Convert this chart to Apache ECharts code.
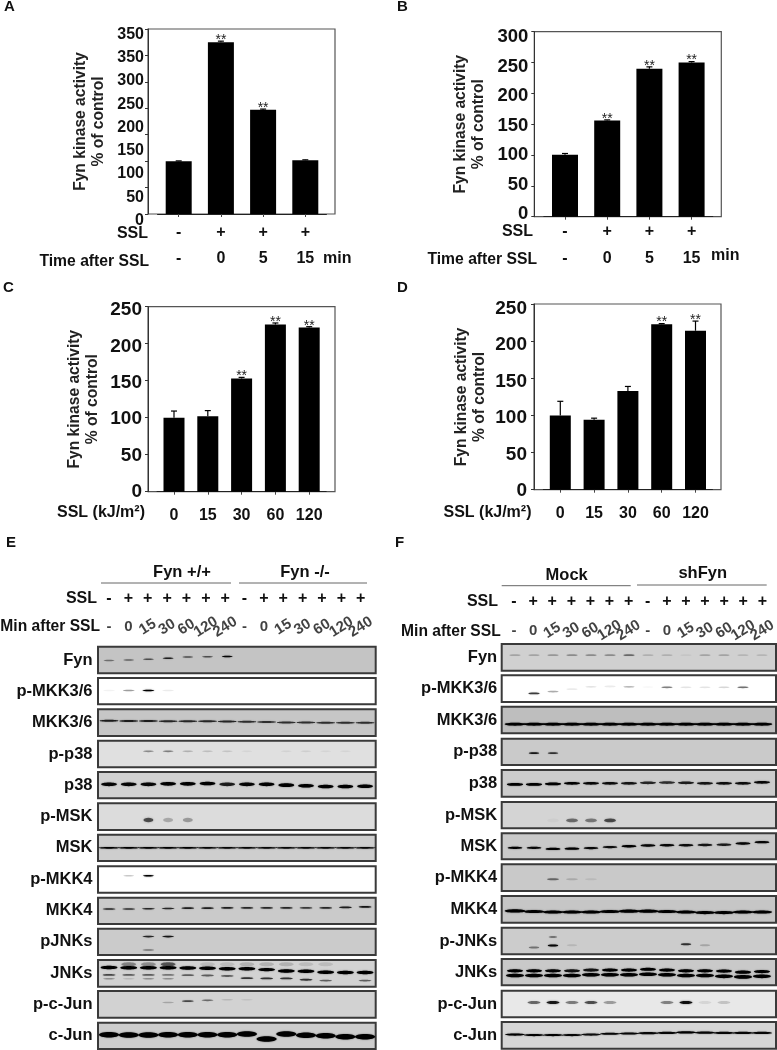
<!DOCTYPE html>
<html><head><meta charset="utf-8">
<script src="https://cdn.jsdelivr.net/npm/echarts@6/dist/echarts.min.js"></script>
<style>html,body{margin:0;padding:0;background:#fff}#c{width:777px;height:1050px}</style>
</head><body><div id="c"></div>
<script>
// ---------- bar chart data ----------
const A_categories = ['-\n-', '+\n0', '+\n5', '+\n15'];
const A_values = [100, 325, 197, 101.5];
const A_errors = [0.5, 2, 1.5, 1];
const A_stars = [0, 1, 1, 0];
const A_tickLabels = ['0', '50', '100', '150', '200', '250', '300', '350', '350'];

const B_categories = ['-\n-', '+\n0', '+\n5', '+\n15'];
const B_values = [100.5, 156, 240, 250];
const B_errors = [2, 1, 3, 1.5];
const B_stars = [0, 1, 1, 1];
const B_tickLabels = ['0', '50', '100', '150', '200', '250', '300'];

const C_categories = ['0', '15', '30', '60', '120'];
const C_values = [100, 102, 153, 226, 222];
const C_errors = [9, 7.6, 1.5, 2, 1];
const C_stars = [0, 0, 1, 1, 1];
const C_tickLabels = ['0', '50', '100', '150', '200', '250'];

const D_categories = ['0', '15', '30', '60', '120'];
const D_values = [100, 94.3, 133, 222.6, 214];
const D_errors = [19, 2, 6, 1, 13];
const D_stars = [0, 0, 0, 1, 1];
const D_tickLabels = ['0', '50', '100', '150', '200', '250'];

// ---------- blot data: band darkness per lane (0-1) and band position in the panel (0 top, 1 bottom) ----------
const sslMarks = ['-', '+', '+', '+', '+', '+', '+', '-', '+', '+', '+', '+', '+', '+'];
const minMarks = ['-', '0', '15', '30', '60', '120', '240', '-', '0', '15', '30', '60', '120', '240'];

const E_Fyn = [.4, .45, .55, .8, .55, .55, .95, 0, 0, 0, 0, 0, 0, 0];
const E_Fyn_y = [.52, .5, .47, .43, .39, .38, .37, 0, 0, 0, 0, 0, 0, 0];
const E_pMKK36 = [.05, .35, 1, .08, 0, 0, 0, 0, 0, 0, 0, 0, 0, 0];
const E_MKK36 = [.8, .8, .8, .75, .75, .75, .75, .7, .7, .7, .7, .7, .7, .7];
const E_MKK36_y = [.43, .44, .44, .45, .45, .45, .46, .47, .48, .49, .49, .5, .5, .5];
const E_pp38 = [0, 0, .35, .4, .2, .15, .12, .05, 0, .06, .08, .05, .05, 0];
const E_p38 = [.95, .95, .95, 1, 1, 1, .8, .95, 1, 1, 1, 1, 1, 1];
const E_p38_y = [.47, .47, .47, .45, .45, .44, .47, .47, .47, .5, .52, .55, .55, .54];
const E_pMSK = [0, 0, .6, .22, .28, 0, 0, 0, 0, 0, 0, 0, 0, 0];
const E_MSK = [1, 1, 1, 1, 1, .95, .95, .95, .95, .95, .95, .95, .95, .95];
const E_pMKK4 = [0, .2, 1, 0, 0, 0, 0, 0, 0, 0, 0, 0, 0, 0];
const E_MKK4 = [.75, .7, .75, .75, .8, .8, .8, .75, .75, .75, .65, .75, .8, .85];
const E_MKK4_y = [.43, .43, .42, .41, .4, .4, .39, .39, .39, .39, .39, .39, .37, .35];
const E_pJNK_upper = [0, 0, .75, .85, 0, 0, 0, 0, 0, 0, 0, 0, 0, 0];
const E_pJNK_lower = [0, 0, .4, 0, 0, 0, 0, 0, 0, 0, 0, 0, 0, 0];
const E_JNK_smear = [0, .35, .3, .55, 0, .1, .1, .15, .15, .15, .1, .1, 0, 0];
const E_JNK_upper = [1, 1, 1, 1, 1, 1, 1, 1, 1, 1, 1, 1, 1, 1];
const E_JNK_upper_y = [.28, .29, .29, .29, .3, .31, .33, .33, .36, .41, .42, .46, .47, .47];
const E_JNK_mid = [.6, .5, .5, .4, .5, .5, .5, .7, .7, .7, .7, .5, 0, .5];
const E_JNK_mid_y = [.56, .56, .56, .56, .57, .58, .6, .68, .69, .69, .74, .77, .77, .77];
const E_JNK_low = [.3, .12, .3, .3, 0, 0, 0, 0, 0, 0, 0, 0, 0, 0];
const E_pcJun = [0, 0, 0, .2, .6, .45, .12, .08, 0, 0, 0, 0, 0, 0];
const E_pcJun_y = [.4, .4, .4, .43, .38, .35, .33, .33, 0, 0, 0, 0, 0, 0];
const E_cJun = [1, 1, 1, 1, 1, 1, 1, 1, 1, 1, 1, 1, 1, 1];
const E_cJun_y = [.46, .47, .47, .46, .46, .46, .46, .43, .62, .43, .48, .5, .53, .53];

const F_Fyn = [.2, .2, .25, .3, .3, .3, .45, .15, .15, .05, .2, .2, .12, .12];
const F_pMKK36 = [0, .7, .3, .08, .1, .08, .25, .03, .45, .1, .1, .15, .5, 0];
const F_pMKK36_y = [.5, .68, .61, .52, .43, .42, .43, .44, .45, .45, .45, .45, .45, .45];
const F_MKK36 = [1, 1, 1, 1, 1, 1, 1, 1, 1, 1, 1, 1, 1, 1];
const F_pp38 = [0, .85, .7, 0, 0, 0, 0, 0, 0, 0, 0, 0, 0, 0];
const F_p38 = [1, 1, 1, 1, .95, .9, .85, .75, .7, .8, .85, .9, .9, .95];
const F_p38_y = [.54, .54, .52, .5, .5, .5, .5, .48, .47, .48, .5, .5, .5, .46];
const F_pMSK = [0, 0, .03, .45, .4, .6, 0, 0, 0, 0, 0, 0, 0, 0];
const F_MSK = [1, .95, 1, 1, .95, .9, 1, .95, .95, .9, .85, .8, .95, .95];
const F_MSK_y = [.56, .56, .6, .59, .57, .53, .5, .47, .46, .46, .45, .44, .39, .34];
const F_pMKK4 = [0, 0, .45, .15, .08, 0, 0, 0, 0, 0, 0, 0, 0, 0];
const F_MKK4 = [1, 1, 1, 1, 1, 1, 1, 1, 1, 1, 1, 1, 1, 1];
const F_MKK4_y = [.56, .58, .6, .6, .6, .58, .57, .57, .58, .6, .62, .62, .6, .6];
const F_pJNK_upper = [0, 0, .5, 0, 0, 0, 0, 0, 0, 0, 0, 0, 0, 0];
const F_pJNK_lower = [0, .4, .95, .1, 0, 0, 0, 0, 0, .7, .18, 0, 0, 0];
const F_pJNK_lower_y = [.7, .74, .67, .66, .6, .6, .6, .6, .6, .62, .66, .6, .6, .6];
const F_JNK_upper = [1, 1, .95, .85, .85, 1, 1, 1, 1, 1, 1, 1, 1, 1];
const F_JNK_upper_y = [.45, .45, .45, .45, .42, .42, .42, .39, .42, .45, .45, .46, .5, .48];
const F_JNK_lower = [1, 1, 1, 1, 1, 1, 1, 1, 1, 1, 1, 1, 1, 1];
const F_JNK_lower_y = [.63, .63, .63, .63, .6, .6, .6, .58, .6, .63, .63, .66, .68, .66];
const F_pcJun = [0, .5, .85, .42, .6, .3, 0, 0, .4, .9, .08, .15, 0, 0];
const F_cJun = [1, 1, 1, .95, .9, .95, .95, .95, .95, 1, .95, .95, .95, .95];
const F_cJun_y = [.47, .49, .49, .49, .47, .44, .43, .42, .41, .39, .4, .41, .41, .41];

// ---------- layout of the charts ----------
const FONT = '"Liberation Sans", Arial, sans-serif';
const TXT = '#111';
const option = { animation: false, backgroundColor: '#fff', grid: [], xAxis: [], yAxis: [], series: [], graphic: [] };

function addGrid(g, x, y) {
  const i = option.grid.length;
  option.grid.push(Object.assign({ containLabel: false }, g));
  option.xAxis.push(Object.assign({ gridIndex: i }, x));
  option.yAxis.push(Object.assign({ gridIndex: i }, y));
  return i;
}
const hidden = { axisLine: { show: false }, axisTick: { show: false }, axisLabel: { show: false }, splitLine: { show: false } };

function barChart(c) {
  const h = c.bottom - c.top;
  addGrid(
    { left: c.left, top: c.top, width: c.width, height: h, show: true, borderColor: '#555', borderWidth: 1.2, backgroundColor: 'transparent' },
    Object.assign({ type: 'value', min: 0, max: 1 }, hidden),
    { type: 'value', min: 0, max: c.max, interval: 50,
      axisLine: { show: true, lineStyle: { color: '#333', width: 1 } },
      axisTick: { show: true, length: 3, lineStyle: { color: '#333' } },
      axisLabel: { show: false }, splitLine: { show: false },
      name: 'Fyn kinase activity\n% of control', nameLocation: 'middle', nameGap: c.nameGap,
      nameTextStyle: { fontFamily: FONT, fontWeight: 'bold', fontSize: 15.6, lineHeight: 17.5, color: '#222' } });
  addGrid(
    { left: c.left, top: c.labelTop, width: c.width, height: c.labelBottom - c.labelTop },
    Object.assign({ type: 'value', min: 0, max: 1 }, hidden),
    { type: 'category', boundaryGap: false, data: c.tickLabels,
      axisLine: { show: false }, axisTick: { show: false }, splitLine: { show: false },
      axisLabel: { margin: c.labelMargin, fontFamily: FONT, fontWeight: 'bold', fontSize: c.labelSize, color: TXT, interval: 0 } });
  const idx = addGrid(
    { left: c.x0 - c.step / 2, top: c.top, width: c.step * c.categories.length, height: h },
    { type: 'category', data: c.categories,
      axisLine: { show: true, lineStyle: { color: '#222', width: 1.2 } },
      axisTick: { show: true, alignWithLabel: true, length: 3, lineStyle: { color: '#444' } },
      axisLabel: { interval: 0, margin: c.catMargin, lineHeight: c.catLine, fontFamily: FONT, fontWeight: 'bold', fontSize: 16, color: TXT } },
    Object.assign({ type: 'value', min: 0, max: c.max }, hidden));
  option.series.push({ type: 'bar', xAxisIndex: idx, yAxisIndex: idx, data: c.values, barWidth: c.barWidth,
    itemStyle: { color: '#000' }, silent: true });
  option.series.push({ type: 'custom', xAxisIndex: idx, yAxisIndex: idx, silent: true,
    data: c.values.map((v, i) => [i, v, c.errors[i], c.stars[i]]),
    renderItem: (p, api) => {
      const x = api.value(0), v = api.value(1), e = api.value(2), s = api.value(3);
      const a = api.coord([x, v]), b = api.coord([x, v + e]);
      const kids = [
        { type: 'line', shape: { x1: a[0], y1: a[1], x2: b[0], y2: b[1] }, style: { stroke: '#000', lineWidth: 1.2 } },
        { type: 'line', shape: { x1: a[0] - 3, y1: b[1], x2: a[0] + 3, y2: b[1] }, style: { stroke: '#000', lineWidth: 1.2 } }
      ];
      if (s) kids.push({ type: 'text', style: { text: '**', x: a[0], y: b[1] - 1, align: 'center', verticalAlign: 'middle', font: '14px ' + FONT, fill: '#222' } });
      return { type: 'group', children: kids };
    } });
}

barChart({ left: 148, width: 187, top: 29, bottom: 214, max: 350, labelTop: 34.5, labelBottom: 220.5, labelMargin: 4, labelSize: 16, tickLabels: A_tickLabels,
  nameGap: 41, x0: 178.7, step: 42.2, barWidth: 26, categories: A_categories, values: A_values, errors: A_errors, stars: A_stars, catMargin: 6, catLine: 26 });
barChart({ left: 534.3, width: 187, top: 31.7, bottom: 216.7, max: 300, labelTop: 37, labelBottom: 214, labelMargin: 6, labelSize: 18.5, tickLabels: B_tickLabels,
  nameGap: 47, x0: 565, step: 42.2, barWidth: 26, categories: B_categories, values: B_values, errors: B_errors, stars: B_stars, catMargin: 1, catLine: 27 });
barChart({ left: 148, width: 187, top: 306.7, bottom: 491.7, max: 250, labelTop: 310, labelBottom: 491.7, labelMargin: 6, labelSize: 19, tickLabels: C_tickLabels,
  nameGap: 47, x0: 174, step: 33.8, barWidth: 21, categories: C_categories, values: C_values, errors: C_errors, stars: C_stars, catMargin: 16, catLine: 16 });
barChart({ left: 534, width: 187, top: 304, bottom: 489.7, max: 250, labelTop: 308.7, labelBottom: 491, labelMargin: 7, labelSize: 19, tickLabels: D_tickLabels,
  nameGap: 46, x0: 560.3, step: 33.8, barWidth: 21, categories: D_categories, values: D_values, errors: D_errors, stars: D_stars, catMargin: 16, catLine: 16 });

function bands(grid, spec) {
  const ys = spec.y;
  const data = [];
  spec.v.forEach((a, i) => { if (a > 0) data.push([i, Array.isArray(ys) ? ys[i] : ys, a]); });
  option.series.push({ type: 'custom', xAxisIndex: grid, yAxisIndex: grid, silent: true, clip: true, data,
    renderItem: (p, api) => {
      const c = api.coord([api.value(0), api.value(1)]);
      const a = api.value(2);
      const rx = api.size([spec.w, 0])[0] / 2;
      return { type: 'ellipse', shape: { cx: c[0], cy: c[1], rx, ry: spec.t / 2 },
        style: { fill: 'rgba(0,0,0,' + a + ')', shadowBlur: spec.blur === undefined ? 1.5 : spec.blur, shadowColor: 'rgba(0,0,0,' + (a * 0.6) + ')' } };
    } });
}

function blot(p, row) {
  const g = addGrid(
    { left: p.left, width: p.width, top: row.top, height: row.bottom - row.top, show: true, borderColor: '#3a3a3a', borderWidth: 2, backgroundColor: row.bg },
    Object.assign({ type: 'value', min: p.min, max: p.max }, hidden),
    Object.assign({ type: 'value', min: 0, max: 1, inverse: true }, hidden, {
      name: row.name, nameLocation: 'middle', nameRotate: 0, nameGap: p.nameGap,
      nameTextStyle: { align: 'right', verticalAlign: 'middle', padding: [0, 0, 3, 0], fontFamily: FONT, fontWeight: 'bold', fontSize: 16.5, color: TXT } }));
  row.bands.forEach(b => bands(g, b));
}

function header(h) {
  const i = addGrid(
    { left: h.x0 - h.step / 2, width: h.step * 14, top: h.sslY, height: h.minY - h.sslY },
    { type: 'category', data: sslMarks, position: 'top', axisLine: { show: false }, axisTick: { show: false }, splitLine: { show: false },
      axisLabel: { interval: 0, margin: -8, fontFamily: FONT, fontWeight: 'bold', fontSize: 16, color: TXT } },
    Object.assign({ type: 'value', min: 0, max: 1 }, hidden));
  option.series.push({ type: 'scatter', xAxisIndex: i, yAxisIndex: i, symbolSize: 0, silent: true,
    data: minMarks.map((m, k) => ({ value: [k, 0], name: m,
      label: { show: true, position: 'inside', formatter: m, rotate: (m === '-' || m === '0') ? 0 : 32,
        fontFamily: FONT, fontWeight: 'bold', fontSize: 15, color: TXT } })) });
}

const E_panel = { left: 98, width: 277.7, min: -0.56, max: 13.54, nameGap: 5.5 };
const F_panel = { left: 501.7, width: 274.3, min: -0.7, max: 13.74, nameGap: 4.5 };

const E_rows = [
  { name: 'Fyn', top: 646.7, bottom: 673.3, bg: '#c4c4c4', bands: [{ v: E_Fyn, y: E_Fyn_y, w: .55, t: 1.5 }] },
  { name: 'p-MKK3/6', top: 678, bottom: 704.3, bg: '#ffffff', bands: [{ v: E_pMKK36, y: .475, w: .6, t: 1.4 }] },
  { name: 'MKK3/6', top: 709.3, bottom: 736, bg: '#c6c6c6', bands: [{ v: E_MKK36, y: E_MKK36_y, w: .95, t: 2 }] },
  { name: 'p-p38', top: 740.7, bottom: 767.3, bg: '#e0e0e0', bands: [{ v: E_pp38, y: .4, w: .55, t: 1.6 }] },
  { name: 'p38', top: 772, bottom: 798.3, bg: '#d2d2d2', bands: [{ v: E_p38, y: E_p38_y, w: .8, t: 3.6 }] },
  { name: 'p-MSK', top: 803.3, bottom: 830, bg: '#dcdcdc', bands: [{ v: E_pMSK, y: .63, w: .5, t: 4.5, blur: 2.5 }] },
  { name: 'MSK', top: 834.7, bottom: 861, bg: '#cecece', bands: [{ v: E_MSK, y: .5, w: 1.08, t: 1.8 }] },
  { name: 'p-MKK4', top: 866.3, bottom: 892.7, bg: '#ffffff', bands: [{ v: E_pMKK4, y: .36, w: .55, t: 1.5 }] },
  { name: 'MKK4', top: 897.7, bottom: 924, bg: '#cacaca', bands: [{ v: E_MKK4, y: E_MKK4_y, w: .65, t: 1.7 }] },
  { name: 'pJNKs', top: 928.7, bottom: 955, bg: '#cbcbcb', bands: [{ v: E_pJNK_upper, y: .3, w: .6, t: 1.6 }, { v: E_pJNK_lower, y: .81, w: .6, t: 1.6 }] },
  { name: 'JNKs', top: 960, bottom: 986.7, bg: '#d2d2d2', bands: [
    { v: E_JNK_smear, y: .16, w: .75, t: 4, blur: 3 },
    { v: E_JNK_upper, y: E_JNK_upper_y, w: .85, t: 3.4 },
    { v: E_JNK_mid, y: E_JNK_mid_y, w: .65, t: 1.8 },
    { v: E_JNK_low, y: .7, w: .6, t: 1.4 }] },
  { name: 'p-c-Jun', top: 991, bottom: 1017.7, bg: '#d2d2d2', bands: [{ v: E_pcJun, y: E_pcJun_y, w: .6, t: 1.6 }] },
  { name: 'c-Jun', top: 1022.7, bottom: 1049, bg: '#cdcdcd', bands: [{ v: E_cJun, y: E_cJun_y, w: 1.02, t: 5.5 }] }
];
const F_rows = [
  { name: 'Fyn', top: 644, bottom: 670.7, bg: '#d0d0d0', bands: [{ v: F_Fyn, y: .42, w: .6, t: 1.8 }] },
  { name: 'p-MKK3/6', top: 675.3, bottom: 702, bg: '#ffffff', bands: [{ v: F_pMKK36, y: F_pMKK36_y, w: .6, t: 1.8 }] },
  { name: 'MKK3/6', top: 706.7, bottom: 733.3, bg: '#bebebe', bands: [{ v: F_MKK36, y: .66, w: 1.08, t: 2.8 }] },
  { name: 'p-p38', top: 738.7, bottom: 765, bg: '#cacaca', bands: [{ v: F_pp38, y: .55, w: .55, t: 1.6 }] },
  { name: 'p38', top: 770, bottom: 796.7, bg: '#cccccc', bands: [{ v: F_p38, y: F_p38_y, w: .85, t: 2.8 }] },
  { name: 'p-MSK', top: 802, bottom: 828.3, bg: '#d4d4d4', bands: [{ v: F_pMSK, y: .7, w: .62, t: 3.8, blur: 2 }] },
  { name: 'MSK', top: 833.3, bottom: 859.3, bg: '#c9c9c9', bands: [{ v: F_MSK, y: F_MSK_y, w: .78, t: 2.4 }] },
  { name: 'p-MKK4', top: 864.3, bottom: 891, bg: '#c9c9c9', bands: [{ v: F_pMKK4, y: .56, w: .62, t: 2 }] },
  { name: 'MKK4', top: 896, bottom: 922.7, bg: '#c6c6c6', bands: [{ v: F_MKK4, y: F_MKK4_y, w: 1.08, t: 3.2 }] },
  { name: 'p-JNKs', top: 927.7, bottom: 954.3, bg: '#cccccc', bands: [{ v: F_pJNK_upper, y: .35, w: .45, t: 1.4 }, { v: F_pJNK_lower, y: F_pJNK_lower_y, w: .55, t: 2 }] },
  { name: 'JNKs', top: 959, bottom: 985.3, bg: '#c9c9c9', bands: [{ v: F_JNK_upper, y: F_JNK_upper_y, w: .85, t: 3.2 }, { v: F_JNK_lower, y: F_JNK_lower_y, w: .95, t: 3.6 }] },
  { name: 'p-c-Jun', top: 990.7, bottom: 1017.3, bg: '#e8e8e8', bands: [{ v: F_pcJun, y: .44, w: .68, t: 3, blur: 2 }] },
  { name: 'c-Jun', top: 1022, bottom: 1048.7, bg: '#d6d6d6', bands: [{ v: F_cJun, y: F_cJun_y, w: 1.05, t: 2.2 }] }
];
E_rows.forEach(r => blot(E_panel, r));
F_rows.forEach(r => blot(F_panel, r));
header({ x0: 109, step: 19.36, sslY: 599, minY: 627 });
header({ x0: 514, step: 19.1, sslY: 601.7, minY: 630.5 });

// ---------- free text ----------
function text(t, x, y, size, align, weight) {
  option.graphic.push({ type: 'text', silent: true, x, y, style: { text: t, align: align || 'left', verticalAlign: 'middle',
    font: (weight || 'bold') + ' ' + size + 'px ' + FONT, fill: TXT } });
}
function rule(x1, x2, y) {
  option.graphic.push({ type: 'line', silent: true, shape: { x1, y1: y, x2, y2: y }, style: { stroke: '#666', lineWidth: 1 } });
}
text('A', 4, 7, 15); text('B', 397, 7, 15); text('C', 3, 288, 15); text('D', 397, 288, 15); text('E', 6, 543, 15); text('F', 395, 543, 15);
text('SSL', 148, 234, 16, 'right'); text('Time after SSL', 149, 262, 15.7, 'right'); text('min', 323, 259, 16);
text('SSL', 533, 232, 16, 'right'); text('Time after SSL', 537, 260, 15.7, 'right'); text('min', 711, 256, 16);
text('SSL (kJ/m²)', 145, 513, 16, 'right'); text('SSL (kJ/m²)', 531.5, 513, 16, 'right');
text('Fyn +/+', 182, 572, 16.5, 'center'); text('Fyn -/-', 305, 572, 16.5, 'center'); rule(101, 231, 583); rule(239, 367, 583);
text('Mock', 566.7, 575, 16.5, 'center'); text('shFyn', 702.7, 573, 16.5, 'center'); rule(501.7, 630.7, 585.7); rule(637, 766.7, 585);
text('SSL', 97, 599, 16, 'right'); text('Min after SSL', 100, 627, 15.6, 'right');
text('SSL', 498, 601.7, 16, 'right'); text('Min after SSL', 500.7, 631.5, 15.6, 'right');

const chart = echarts.init(document.getElementById('c'), null, { width: 777, height: 1050 });
chart.setOption(option);
</script></body></html>
